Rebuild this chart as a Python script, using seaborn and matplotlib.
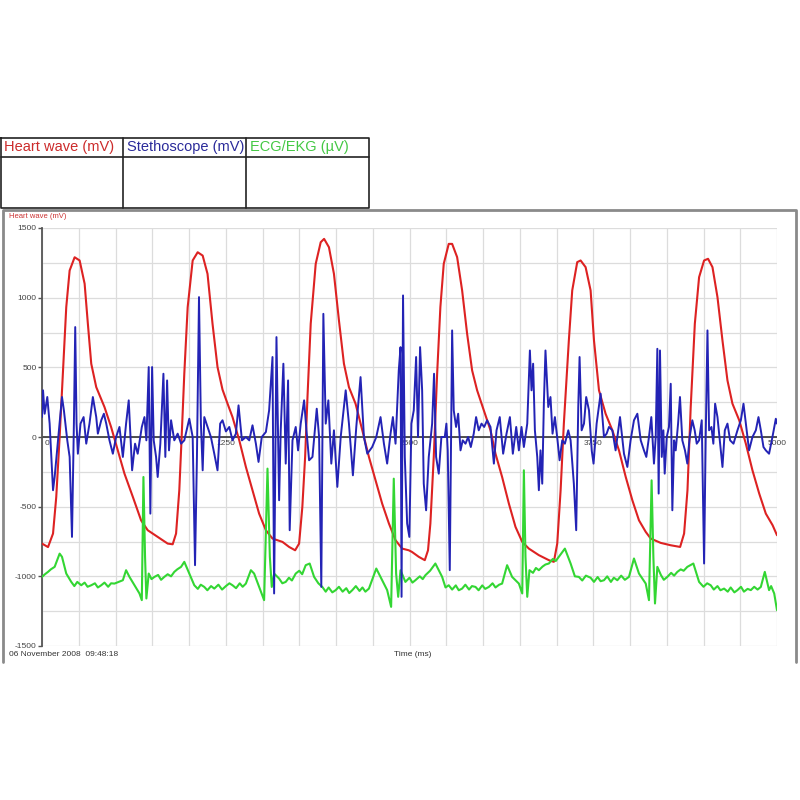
import numpy as np
import matplotlib
matplotlib.use('Agg')
import matplotlib.pyplot as plt
from matplotlib.lines import Line2D
import seaborn as sns

# ---- traces (time in ms) ----
heart_t = [0, 41, 75, 97, 120, 142, 165, 188, 222, 256, 290, 312, 335, 369, 425, 470, 516, 561, 618, 674,
           719, 787, 855, 889, 912, 934, 950, 968, 991, 1025, 1059, 1093, 1126, 1160, 1194, 1228, 1262, 1296, 1342, 1387,
           1432, 1477, 1523, 1568, 1636, 1681, 1722, 1749, 1771, 1790, 1806, 1828, 1862, 1896, 1919, 1952, 1986, 2020, 2054, 2088,
           2133, 2179, 2224, 2269, 2314, 2360, 2405, 2450, 2495, 2517, 2563, 2604, 2626, 2642, 2665, 2688, 2710, 2733, 2767, 2790,
           2824, 2858, 2892, 2926, 2960, 3006, 3051, 3085, 3130, 3176, 3221, 3267, 3312, 3380, 3448, 3482, 3505, 3528, 3550, 3584,
           3607, 3641, 3664, 3698, 3732, 3755, 3789, 3834, 3880, 3925, 3971, 4016, 4061, 4107, 4141, 4209, 4277, 4341, 4368, 4391,
           4413, 4441, 4470, 4504, 4531, 4561, 4595, 4629, 4663, 4697, 4743, 4788, 4833, 4879, 4924, 4970, 5000]
heart_mv = [-765, -790, -693, -430, 0, 454, 932, 1195, 1290, 1267, 1100, 813, 526, 358, 215, 72, -96, -263, -430, -598,
            -669, -717, -765, -770, -693, -382, 0, 454, 932, 1267, 1326, 1302, 1171, 813, 502, 340, 240, 143, -24, -215,
            -382, -550, -669, -729, -753, -789, -813, -765, -502, -143, 287, 813, 1243, 1398, 1422, 1362, 1171, 837, 526, 358,
            239, 48, -143, -311, -478, -621, -741, -801, -813, -825, -860, -884, -813, -621, -143, 454, 932, 1243, 1386, 1386,
            1291, 1052, 741, 478, 335, 191, 48, -120, -287, -478, -645, -753, -801, -848, -884, -896, -765, -382, 96, 693,
            1052, 1255, 1267, 1219, 1052, 693, 335, 167, 48, -96, -287, -454, -598, -681, -729, -760, -777, -789, -693, -382,
            215, 813, 1147, 1267, 1279, 1219, 1004, 693, 406, 239, 120, -48, -239, -406, -550, -633, -705]

steth_t = [0, 7, 18, 36, 52, 75, 86, 109, 136, 149, 172, 188,
           204, 217, 226, 235, 244, 262, 283, 301, 323, 346, 369, 380,
           403, 421, 437, 459, 482, 504, 527, 550, 572, 590, 613, 633,
           651, 679, 697, 710, 726, 737, 749, 760, 776, 787, 805, 826,
           839, 851, 864, 878, 900, 923, 946, 968, 1002, 1025, 1041, 1054,
           1068, 1081, 1093, 1104, 1126, 1149, 1172, 1194, 1212, 1228, 1251, 1274,
           1296, 1319, 1337, 1360, 1387, 1410, 1432, 1455, 1473, 1495, 1523, 1545,
           1568, 1579, 1595, 1613, 1624, 1642, 1658, 1674, 1685, 1704, 1726, 1742,
           1760, 1783, 1799, 1817, 1840, 1869, 1885, 1900, 1914, 1930, 1948, 1968,
           1986, 2009, 2032, 2066, 2088, 2115, 2138, 2167, 2190, 2213, 2246, 2274,
           2303, 2326, 2348, 2371, 2387, 2405, 2427, 2439, 2446, 2456, 2468, 2484,
           2499, 2513, 2529, 2545, 2558, 2572, 2586, 2597, 2613, 2631, 2654, 2667,
           2681, 2699, 2717, 2740, 2751, 2760, 2774, 2790, 2801, 2817, 2831, 2847,
           2862, 2881, 2899, 2917, 2937, 2953, 2971, 2990, 3008, 3028, 3051, 3074,
           3092, 3114, 3137, 3160, 3183, 3203, 3226, 3244, 3262, 3278, 3301, 3319,
           3330, 3341, 3353, 3369, 3380, 3391, 3403, 3414, 3425, 3444, 3459, 3473,
           3489, 3507, 3521, 3539, 3557, 3580, 3596, 3618, 3634, 3648, 3657, 3671,
           3687, 3702, 3721, 3740, 3752, 3773, 3800, 3823, 3841, 3857, 3880, 3902,
           3932, 3959, 3982, 4004, 4027, 4050, 4073, 4095, 4111, 4129, 4145, 4163,
           4175, 4186, 4195, 4204, 4216, 4227, 4236, 4250, 4265, 4277, 4288, 4300,
           4311, 4327, 4340, 4356, 4374, 4390, 4406, 4424, 4440, 4454, 4470, 4488,
           4504, 4515, 4527, 4538, 4554, 4567, 4579, 4595, 4613, 4629, 4645, 4663,
           4681, 4704, 4731, 4754, 4772, 4788, 4810, 4833, 4856, 4874, 4890, 4908,
           4924, 4946, 4969, 4992, 5000]
steth_mv = [143, 335, 167, 287, 96, -382, -287, -24, 287, 191, -24, -143,
            -717, 96, 789, 96, -120, 96, 143, -48, 96, 287, 143, 24,
            120, 167, 96, -24, -120, 0, 72, -143, 96, 263, -239, -48,
            -120, 72, 143, -24, 502, -550, 502, -24, -143, -287, -48, 454,
            -143, 406, -96, 120, -24, 24, -48, -24, 131, 0, -920, -143,
            1004, 96, -239, 143, 72, 0, -120, -239, 96, 120, 40, 72,
            -24, 24, 227, -24, 0, -24, 84, -48, -179, 0, 36, 191,
            574, -1123, 717, -454, 48, 526, -191, 406, -669, -24, 72, -96,
            96, 263, 48, -167, -143, 203, 0, -1076, 884, 96, 263, -191,
            48, -358, 0, 335, 96, -275, 72, 430, 0, -120, -72, 0,
            143, -48, -191, 24, 143, -48, 478, 645, -1147, 1016, -143, -621,
            -717, 96, 191, 574, 0, 645, 335, -335, -526, -143, 96, 454,
            -143, -263, 0, 0, 96, -96, -956, 765, 191, 72, 167, -96,
            -24, -48, 0, -72, 24, 143, 48, 96, 72, 120, 72, -191,
            48, 143, -120, 24, 143, -120, 72, -96, 72, -72, 96, 621,
            335, 526, 48, -143, -382, -96, -335, 239, 621, 215, 287, 24,
            143, -24, -167, -24, -48, 48, -24, -335, -669, 215, 574, 48,
            96, 287, 191, -100, -191, 96, 311, 0, 24, 72, 48, -96,
            143, -120, -215, -24, 120, 167, -24, -96, -143, 0, 143, -191,
            0, 633, -406, 621, -143, 48, -263, 0, 72, 382, -526, -24,
            -96, 96, 287, -24, -96, -191, 0, 120, 48, -48, -24, 120,
            -908, 0, 765, 48, 72, -48, 239, 143, -48, -215, 48, 96,
            -24, -48, 48, 120, 239, 96, -96, 0, 48, 143, 48, -72,
            -96, -120, 0, 131, 96]

ecg_t = [0, 20, 41, 60, 86, 120, 136, 165, 199, 220, 240, 267, 290, 310, 335, 360, 380, 403, 425, 450, 470, 493,
         550, 572, 595, 629, 663, 679, 690, 701, 710, 726, 745, 765,
         790, 810, 832, 855, 878, 900, 920, 946, 968, 1002, 1036, 1060, 1080, 1104, 1125, 1150, 1172, 1200, 1225, 1251,
         1275, 1296, 1320, 1345, 1365, 1387, 1421, 1443, 1477, 1511, 1534, 1550, 1563, 1579, 1613, 1635, 1658, 1680, 1700,
         1726, 1750, 1770, 1794, 1821, 1851, 1880, 1907,
         1930, 1950, 1975, 1998, 2020, 2045, 2070, 2090, 2111, 2135, 2160, 2180, 2200, 2224, 2274, 2314, 2348, 2375, 2393,
         2409, 2423, 2439, 2472,
         2500, 2520, 2540, 2570, 2590, 2608, 2640, 2676, 2722, 2745, 2767, 2790, 2815, 2835, 2858, 2880, 2905, 2925, 2949,
         2970, 2995, 3015, 3040, 3065, 3085, 3110, 3130, 3164, 3198, 3244, 3267, 3278, 3289, 3301, 3316,
         3340, 3360, 3380, 3405, 3425, 3448, 3475, 3495, 3516, 3557, 3596, 3625, 3652, 3675, 3700, 3732, 3755, 3780, 3800,
         3823, 3845, 3870, 3890, 3914, 3940, 3965, 3993, 4027, 4061, 4107, 4129, 4147, 4159, 4170, 4186,
         4210, 4230, 4254, 4280, 4300, 4322, 4345, 4365, 4390, 4431, 4470, 4500, 4525, 4549, 4570, 4595, 4615, 4640, 4665,
         4685, 4710, 4731, 4755, 4775, 4800, 4822, 4845, 4868, 4890, 4917, 4946, 4960, 4981, 5000]
ecg_uv = [-1004, -985, -968, -950, -932, -837, -860, -980, -1040, -1070, -1040, -1064, -1045, -1075, -1064, -1050, -1080, -1064, -1045, -1075, -1050, -1052,
          -1028, -956, -1004, -1064, -1123, -1171, -287, -860, -1159, -980, -1020, -1004,
          -990, -1025, -1004, -985, -1000, -968, -950, -932, -896, -980, -1064, -1090, -1060, -1076, -1100, -1070, -1088, -1060, -1095, -1070,
          -1050, -1064, -1085, -1050, -1075, -1052, -956, -980, -1076, -1171, -227, -860, -1076, -980, -1016, -1050, -1040, -1010, -1030,
          -980, -960, -985, -920, -908, -1004, -1050, -1076,
          -1110, -1080, -1115, -1099, -1075, -1110, -1085, -1120, -1099, -1070, -1105, -1080, -1110, -1088, -944, -1028, -1099, -1219, -299,
          -980, -1147, -956, -1040,
          -1010, -1045, -1028, -1000, -1020, -992, -960, -908, -1004, -1080, -1064, -1095, -1065, -1100, -1088, -1060, -1095, -1070, -1076,
          -1100, -1065, -1090, -1076, -1050, -1080, -1060, -1052, -920, -1004, -1052, -1123, -239, -860, -1147, -956,
          -975, -940, -956, -930, -915, -908, -875, -890, -860, -801, -908, -1000, -1004, -1030, -995, -1010, -1040, -1005, -1035,
          -1028, -1000, -1040, -1010, -1028, -995, -1025, -1004, -872, -980, -1052, -1171, -311, -860, -1195, -932,
          -990, -1025, -1004, -975, -995, -968, -950, -960, -932, -908, -1040, -1075, -1050, -1064, -1095, -1070, -1100, -1088, -1110,
          -1080, -1115, -1099, -1075, -1110, -1090, -1099, -1075, -1095, -1076, -968, -1099, -1070, -1123, -1243]

assert len(heart_t) == len(heart_mv)
assert len(steth_t) == len(steth_mv)
assert len(ecg_t) == len(ecg_uv)

channels = ['Heart wave (mV)', 'Stethoscope (mV)', 'ECG/EKG (\u00b5V)']
colors = ['#dd2222', '#2323b5', '#33d633']
header_colors = ['#cc2b2b', '#2a2a9a', '#44c844']
y_ticks = [-1500, -1000, -500, 0, 500, 1000, 1500]
x_label_pos = [0, 1250, 2500, 3750, 5000]
x_labels = ['0', '1250', '2500', '3750', '5000']

sns.set_theme(style='white')
plt.rcParams['font.family'] = ['Liberation Sans', 'DejaVu Sans']
plt.rcParams['axes.unicode_minus'] = False

W, H = 800, 800
fig = plt.figure(figsize=(8, 8), dpi=100)


def fx(px):
    return px / W


def fy(py):
    return 1 - py / H


def fig_line(xs, ys, color, lw):
    fig.add_artist(Line2D([fx(x) for x in xs], [fy(y) for y in ys], color=color, lw=lw))


# channel table on top
fig_line([1, 369, 369, 1, 1], [138, 138, 208, 208, 138], '#222222', 1.2)
fig_line([123, 123], [138, 208], '#222222', 1.2)
fig_line([246, 246], [138, 208], '#222222', 1.2)
fig_line([1, 369], [157, 157], '#222222', 1.2)
for i, name in enumerate(channels):
    fig.text(fx(4 + 123 * i), fy(147.5), name, color=header_colors[i], fontsize=10.5, va='center')

# graph window frame
fig_line([3, 3, 796, 796], [662, 210, 210, 662], '#8a8a8a', 2)

ax = fig.add_axes([fx(42), fy(646), (777 - 42) / W, (646 - 228) / H])
ax.set_facecolor('white')
ax.set_xlim(0, 5000)
ax.set_ylim(-1500, 1500)
ax.set_xticks(np.arange(0, 5001, 250))
ax.set_yticks(y_ticks)
ax.set_yticks(np.arange(-1500, 1501, 250), minor=True)
ax.grid(True, which='both', color='#dcdcdc', lw=0.9)
ax.set_axisbelow(True)
ax.tick_params(axis='x', length=0, labelbottom=False)
ax.tick_params(axis='y', which='major', left=True, length=3, width=1, color='#555555',
               labelsize=6, labelcolor='#444444', pad=1, direction='out')
ax.tick_params(axis='y', which='minor', length=0)
for s in ['top', 'right', 'bottom']:
    ax.spines[s].set_visible(False)
ax.spines['left'].set_color('#555555')
ax.spines['left'].set_linewidth(1.3)

ax.axhline(0, color='#333333', lw=1.2, zorder=1.5)
for t, lab in zip(x_label_pos, x_labels):
    ax.text(t + (15 if t == 0 else 0), -22, lab, ha='left' if t == 0 else 'center', va='top',
            fontsize=6, color='#444444', zorder=1.6)

sns.lineplot(x=heart_t, y=heart_mv, ax=ax, color=colors[0], lw=1.5, estimator=None, sort=False, zorder=3)
sns.lineplot(x=ecg_t, y=ecg_uv, ax=ax, color=colors[2], lw=1.5, estimator=None, sort=False, zorder=4)
sns.lineplot(x=steth_t, y=steth_mv, ax=ax, color=colors[1], lw=1.4, estimator=None, sort=False, zorder=5)
ax.set_xlabel('')
ax.set_ylabel('')

fig.text(fx(9), fy(217), 'Heart wave (mV)', color='#cc3333', fontsize=5.5, va='center')
fig.text(fx(9), fy(654), '06 November 2008  09:48:18', color='#333333', fontsize=6, va='center')
fig.text(fx(394), fy(654), 'Time (ms)', color='#333333', fontsize=6, va='center')

fig.savefig('out.png', dpi=100)
plt.close(fig)
